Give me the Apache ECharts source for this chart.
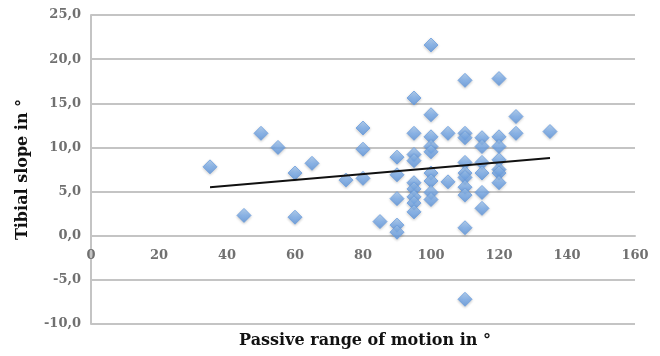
<!DOCTYPE html>
<html><head><meta charset="utf-8">
<script src="https://cdn.jsdelivr.net/npm/echarts@6/dist/echarts.min.js"></script>
<style>html,body{margin:0;padding:0;background:#fff}#c{width:660px;height:356px}</style>
</head><body><div id="c"></div>
<script>
// Passive range of motion (x) and tibial slope (y), grouped by x value
const rangeX = [35, 45, 50, 55, 60, 65, 75, 80, 85, 90, 95, 100, 105, 110, 115, 120, 125, 135];
const slopeY = [
  [7.8],
  [2.3],
  [11.6],
  [10.0],
  [7.1, 2.1],
  [8.2],
  [6.3],
  [12.2, 9.8, 6.5],
  [1.6],
  [8.9, 6.9, 4.2, 1.2, 0.4],
  [15.6, 11.6, 9.2, 8.5, 6.0, 5.3, 4.4, 3.7, 2.7],
  [21.6, 13.7, 11.2, 10.1, 9.5, 7.1, 6.2, 4.9, 4.1],
  [11.6, 6.1],
  [17.6, 11.6, 11.1, 8.3, 7.1, 6.6, 5.5, 4.6, 0.9, -7.2],
  [11.1, 10.1, 8.3, 7.1, 4.9, 3.1],
  [17.8, 11.2, 10.1, 8.6, 7.5, 7.1, 6.0],
  [13.5, 11.6],
  [11.8]
];
// Linear trend line endpoints
const trendX = [35, 135];
const trendY = [5.5, 8.8];
const xTicks = [0, 20, 40, 60, 80, 100, 120, 140, 160];
const yTicks = [-10, -5, 0, 5, 10, 15, 20, 25];

const points = [];
rangeX.forEach((x, i) => slopeY[i].forEach(y => points.push([x, y])));
const trend = trendX.map((x, i) => [x, trendY[i]]);

const gridTop = 15, gridBottom = 32, H = 356;
const plotH = H - gridTop - gridBottom;
const yMin = yTicks[0], yMax = yTicks[yTicks.length - 1];
// second grid ends at the y = 0 line so its x axis sits there
const zeroBottom = gridBottom + plotH * (0 - yMin) / (yMax - yMin);

const chart = echarts.init(document.getElementById('c'), null, {renderer: 'canvas'});
const lblFont = {fontFamily: 'DejaVu Serif', fontSize: 13, color: '#707070', fontWeight: 'bold'};
const xMin = xTicks[0], xMax = xTicks[xTicks.length - 1];
chart.setOption({
  animation: false,
  grid: [
    {left: 91, right: 25, top: gridTop, bottom: gridBottom},
    {left: 91, right: 25, top: gridTop, bottom: zeroBottom}
  ],
  xAxis: [{
    gridIndex: 0, type: 'value', min: xMin, max: xMax, interval: 20,
    axisLine: {show: false}, axisTick: {show: false}, splitLine: {show: false},
    axisLabel: {show: false}
  }, {
    gridIndex: 1, type: 'value', min: xMin, max: xMax, interval: 20,
    axisLine: {show: true, onZero: false, lineStyle: {color: '#c4c4c4', width: 2}},
    axisTick: {show: false}, splitLine: {show: false},
    axisLabel: Object.assign({margin: 13}, lblFont)
  }],
  yAxis: [{
    gridIndex: 0, type: 'value', min: yMin, max: yMax, interval: 5,
    name: 'Tibial slope in °', nameLocation: 'middle', nameGap: 60,
    nameTextStyle: {fontFamily: 'DejaVu Serif', fontWeight: 'bold', fontSize: 16, color: '#111'},
    axisLine: {show: true, lineStyle: {color: '#c4c4c4', width: 2}},
    axisTick: {show: false},
    splitLine: {show: true, lineStyle: {color: '#c4c4c4', width: 2}},
    axisLabel: Object.assign({margin: 10, formatter: v => v.toFixed(1).replace('.', ',')}, lblFont)
  }, {
    gridIndex: 1, type: 'value', min: 0, max: yMax, show: false
  }],
  graphic: [{
    type: 'text', x: 365, y: 341,
    style: {text: 'Passive range of motion in °', font: 'bold 16px "DejaVu Serif"', fill: '#111',
            textAlign: 'center', textVerticalAlign: 'middle'}
  }],
  series: [{
    type: 'scatter', data: points, symbol: 'diamond', symbolSize: 14,
    xAxisIndex: 0, yAxisIndex: 0,
    itemStyle: {
      color: new echarts.graphic.LinearGradient(0, 0, 0, 1, [
        {offset: 0, color: '#b0d2f7'}, {offset: 0.5, color: '#78abea'}, {offset: 1, color: '#5d95dc'}
      ]),
      borderColor: '#6a9ee0', borderWidth: 1,
      shadowColor: 'rgba(0,0,0,0.25)', shadowBlur: 3, shadowOffsetY: 1
    },
    z: 3
  }, {
    type: 'line', data: trend, symbol: 'none', xAxisIndex: 0, yAxisIndex: 0,
    lineStyle: {color: '#111', width: 2}, z: 4
  }]
});
</script></body></html>
